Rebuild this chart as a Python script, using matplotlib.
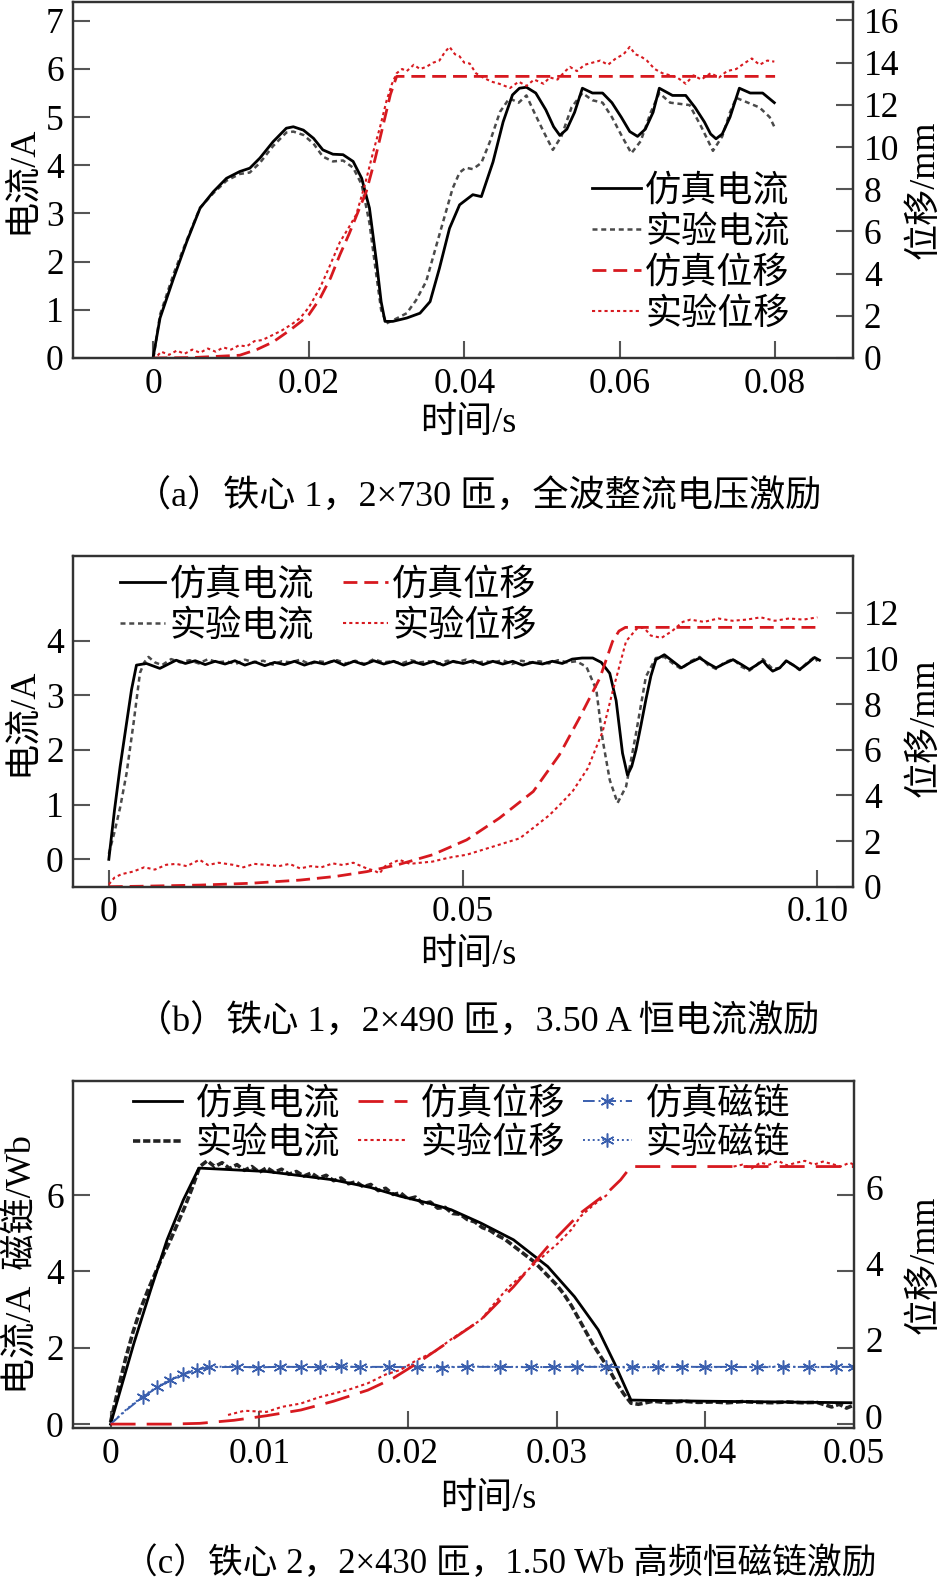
import numpy as np
import matplotlib
matplotlib.use("Agg")
import matplotlib.pyplot as plt
import matplotlib.transforms as mtransforms

plt.rcParams['font.family'] = ['Liberation Serif', 'Noto Sans CJK SC', 'DejaVu Sans']
plt.rcParams['axes.unicode_minus'] = False

RED = '#d7191f'
BLUE = '#3a5fae'
GRAY = '#4a4a4a'

# ---------------- (a) data ----------------
ta_si = [0, 0.00085, 0.0026, 0.0043, 0.006, 0.0077, 0.0094, 0.0111, 0.0124, 0.0137, 0.0154, 0.0171,
         0.018, 0.0193, 0.0206, 0.0218, 0.0231, 0.0244, 0.0257, 0.0268, 0.0278, 0.0287, 0.0293, 0.0298,
         0.0308, 0.0326, 0.0343, 0.0356, 0.0368, 0.0381, 0.0394, 0.0411, 0.0422, 0.0437, 0.045, 0.0462,
         0.0471, 0.048, 0.0492, 0.0505, 0.0515, 0.0523, 0.0532, 0.0542, 0.0552, 0.0565, 0.0578, 0.059,
         0.0602, 0.0613, 0.0623, 0.0633, 0.0643, 0.0651, 0.0668, 0.0685, 0.0697, 0.0709, 0.0717, 0.0724,
         0.0732, 0.0742, 0.0754, 0.0768, 0.0784, 0.0799]
ia_sim = [0.05, 0.83, 1.66, 2.42, 3.11, 3.45, 3.73, 3.87, 3.94, 4.15, 4.49, 4.77,
          4.8, 4.73, 4.56, 4.32, 4.23, 4.22, 4.08, 3.73, 3.11, 2.0, 1.17, 0.76,
          0.76, 0.83, 0.93, 1.17, 1.86, 2.69, 3.18, 3.39, 3.35, 4.07, 4.9, 5.46,
          5.6, 5.62, 5.5, 5.15, 4.8, 4.62, 4.75, 5.1, 5.6, 5.5, 5.5, 5.3,
          5.0, 4.7, 4.6, 4.75, 5.1, 5.6, 5.45, 5.45, 5.2, 4.9, 4.65, 4.55,
          4.65, 5.0, 5.6, 5.5, 5.5, 5.3]

ta_ei = [0, 0.00085, 0.0026, 0.0043, 0.006, 0.0077, 0.0094, 0.0111, 0.0124, 0.0137, 0.0154, 0.0171,
         0.018, 0.0193, 0.0206, 0.0218, 0.0231, 0.0244, 0.0257, 0.0268, 0.0278, 0.0287, 0.0293, 0.03,
         0.0308, 0.0326, 0.0338, 0.0351, 0.0368, 0.0385, 0.0394, 0.0402, 0.0411, 0.0422, 0.0433, 0.0446,
         0.0458, 0.047, 0.048, 0.049, 0.0502, 0.0514, 0.0525, 0.0538, 0.0552, 0.0565, 0.0578, 0.059,
         0.0603, 0.0615, 0.0627, 0.064, 0.0651, 0.0665, 0.069, 0.0705, 0.072, 0.0732, 0.0742, 0.075,
         0.0765, 0.078, 0.0793, 0.0799]
ia_exp = [0.0, 0.9, 1.75, 2.45, 3.12, 3.42, 3.68, 3.82, 3.85, 4.05, 4.4, 4.68,
          4.7, 4.63, 4.45, 4.18, 4.08, 4.1, 3.95, 3.6, 2.8, 1.7, 1.0, 0.72,
          0.78, 0.93, 1.2, 1.59, 2.56, 3.52, 3.85, 3.95, 3.92, 4.05, 4.49, 5.11,
          5.39, 5.3, 5.45, 5.1, 4.7, 4.32, 4.6, 5.2, 5.5, 5.35, 5.3, 5.0,
          4.6, 4.25, 4.5, 5.1, 5.5, 5.3, 5.25, 4.8, 4.3, 4.6, 5.1, 5.4,
          5.3, 5.2, 5.0, 4.8]

ta_sd = [0, 0.005, 0.0111, 0.0133, 0.0154, 0.0176, 0.0189, 0.02, 0.0214, 0.0228, 0.024, 0.0252,
         0.0263, 0.0274, 0.0285, 0.0296, 0.0305, 0.0313, 0.032, 0.08]
da_sim = [0, 0.02, 0.13, 0.4, 0.76, 1.33, 1.7, 2.05, 2.8, 3.8, 4.9, 5.9,
          6.9, 7.9, 9.4, 11.1, 12.5, 13.35, 13.35, 13.35]

ta_ed = [0, 0.001, 0.002, 0.003, 0.004, 0.005, 0.006, 0.007, 0.008, 0.009, 0.010, 0.011, 0.012,
         0.013, 0.014, 0.0154, 0.0165, 0.0178, 0.0189, 0.02, 0.0214, 0.0225, 0.024, 0.025, 0.0261,
         0.0272, 0.0283, 0.0292, 0.03, 0.0307, 0.0313, 0.032, 0.0326, 0.0335, 0.0343, 0.0351, 0.036,
         0.0368, 0.0375, 0.0381, 0.0388, 0.0394, 0.04, 0.0407, 0.0415, 0.0424, 0.0435, 0.0445, 0.0459,
         0.047, 0.048, 0.049, 0.0502, 0.051, 0.052, 0.053, 0.0536, 0.0545, 0.0555, 0.0565, 0.0575,
         0.0585, 0.0595, 0.0605, 0.0613, 0.062, 0.0627, 0.0635, 0.0645, 0.0655, 0.0665, 0.0674, 0.0685,
         0.0695, 0.0705, 0.0717, 0.0728, 0.0738, 0.075, 0.076, 0.077, 0.078, 0.079, 0.0799]
da_exp = [-0.1, 0.3, 0.15, 0.35, 0.2, 0.4, 0.25, 0.45, 0.3, 0.5, 0.4, 0.6, 0.55,
          0.8, 0.85, 1.1, 1.3, 1.6, 1.9, 2.4, 3.3, 4.2, 5.5, 6.1, 6.8,
          8.2, 9.8, 11.0, 12.2, 13.0, 13.5, 13.7, 13.6, 13.9, 13.7, 13.8, 14.0,
          14.1, 14.5, 14.75, 14.4, 14.3, 14.0, 13.96, 13.5, 13.3, 13.1, 13.0, 12.8,
          13.1, 12.9, 13.2, 13.0, 13.3, 13.2, 13.6, 13.8, 13.6, 13.9, 14.0, 14.1,
          13.9, 14.2, 14.4, 14.75, 14.4, 14.3, 14.1, 13.7, 13.5, 13.4, 13.3, 13.0,
          13.4, 13.2, 13.5, 13.3, 13.6, 13.7, 13.96, 14.2, 13.9, 14.1, 14.05]

# ---------------- (b) data ----------------
tb_si = [0, 0.0008, 0.0016, 0.0024, 0.0032, 0.0039, 0.0053, 0.0072, 0.0095, 0.0108, 0.0122, 0.0136,
         0.015, 0.0164, 0.0178, 0.0192, 0.0206, 0.022, 0.0234, 0.0248, 0.0262, 0.0276, 0.029, 0.0304,
         0.0318, 0.0332, 0.0346, 0.036, 0.0374, 0.0388, 0.0402, 0.0416, 0.043, 0.0444, 0.0458, 0.0472,
         0.0486, 0.05, 0.0514, 0.0528, 0.0542, 0.0556, 0.057, 0.0584, 0.0598, 0.0612, 0.0626, 0.064,
         0.0654, 0.0668, 0.0683, 0.0695, 0.0707, 0.0716, 0.0725, 0.0732, 0.0738, 0.0744, 0.0751, 0.0758,
         0.0765, 0.0772, 0.0784, 0.0796, 0.0808, 0.0821, 0.0834, 0.0846, 0.0857, 0.0869, 0.0881, 0.0893,
         0.0904, 0.0914, 0.0923, 0.093, 0.0937, 0.0947, 0.0956, 0.0966, 0.0975, 0.0986, 0.0996, 0.1003]
ib_sim = [0.0, 0.9, 1.7, 2.4, 3.1, 3.55, 3.58, 3.49, 3.64, 3.58, 3.63, 3.56,
          3.62, 3.57, 3.63, 3.55, 3.61, 3.54, 3.6, 3.56, 3.62, 3.55, 3.61, 3.57,
          3.63, 3.55, 3.62, 3.56, 3.63, 3.57, 3.62, 3.55, 3.61, 3.56, 3.62, 3.55,
          3.62, 3.58, 3.63, 3.56, 3.62, 3.57, 3.62, 3.55, 3.6, 3.57, 3.62, 3.58,
          3.66, 3.68, 3.68, 3.6, 3.4, 2.9, 1.94, 1.54, 1.7, 2.0, 2.45, 2.92,
          3.35, 3.65, 3.74, 3.62, 3.5, 3.6, 3.68, 3.58, 3.5, 3.58, 3.65, 3.56,
          3.47, 3.55, 3.63, 3.52, 3.44, 3.5, 3.63, 3.55, 3.47, 3.58, 3.69, 3.64]

tb_ei = [0, 0.0008, 0.0016, 0.0025, 0.0035, 0.0044, 0.005, 0.0056, 0.0065, 0.0075, 0.0088, 0.0101,
         0.0114, 0.0127, 0.014, 0.0153, 0.0166, 0.0179, 0.0192, 0.0205, 0.0218, 0.0231, 0.0244, 0.0257,
         0.027, 0.0283, 0.0296, 0.0309, 0.0322, 0.0335, 0.0348, 0.0361, 0.0374, 0.0387, 0.04, 0.0413,
         0.0426, 0.0439, 0.0452, 0.0465, 0.0478, 0.0491, 0.0504, 0.0517, 0.053, 0.0543, 0.0556, 0.0569,
         0.0582, 0.0595, 0.0608, 0.0621, 0.0634, 0.0647, 0.066, 0.0674, 0.0688, 0.0697, 0.0707, 0.0718,
         0.073, 0.0744, 0.0758, 0.0772, 0.0784, 0.0796, 0.0808, 0.0821, 0.0834, 0.0846, 0.0857, 0.0869,
         0.0881, 0.0893, 0.0904, 0.0914, 0.0923, 0.0937, 0.0947, 0.0956, 0.0966, 0.0975, 0.0986, 0.0996,
         0.1]
ib_exp = [0.1, 0.5, 0.95, 1.57, 2.5, 3.41, 3.6, 3.7, 3.6, 3.55, 3.66, 3.6,
          3.64, 3.58, 3.66, 3.6, 3.62, 3.57, 3.65, 3.6, 3.63, 3.56, 3.62, 3.6,
          3.65, 3.57, 3.62, 3.6, 3.64, 3.58, 3.63, 3.57, 3.66, 3.6, 3.62, 3.58,
          3.64, 3.6, 3.62, 3.57, 3.63, 3.6, 3.65, 3.58, 3.62, 3.6, 3.64, 3.57,
          3.63, 3.6, 3.62, 3.58, 3.64, 3.6, 3.62, 3.52, 3.1, 2.18, 1.45, 1.03,
          1.33, 2.3, 3.34, 3.68, 3.7, 3.58, 3.48, 3.62, 3.7, 3.55, 3.48, 3.6,
          3.66, 3.52, 3.45, 3.55, 3.66, 3.48, 3.5, 3.62, 3.55, 3.46, 3.6, 3.7,
          3.62]

tb_sd = [0, 0.0045, 0.0128, 0.02, 0.027, 0.032, 0.0364, 0.041, 0.0457, 0.0505, 0.0551, 0.0599,
         0.0636, 0.0664, 0.0693, 0.0711, 0.072, 0.0729, 0.1]
db_sim = [0, 0.02, 0.07, 0.15, 0.29, 0.45, 0.66, 0.98, 1.4, 2.05, 3.0, 4.17,
          5.78, 7.38, 9.14, 10.75, 11.2, 11.36, 11.36]

tb_ed = [0, 0.0008, 0.0018, 0.0034, 0.005, 0.0065, 0.0081, 0.0095, 0.011, 0.0128, 0.014, 0.0155,
         0.0175, 0.019, 0.0205, 0.0222, 0.024, 0.0255, 0.027, 0.0285, 0.03, 0.0316, 0.033, 0.0345,
         0.0364, 0.0375, 0.0382, 0.039, 0.041, 0.0425, 0.044, 0.0457, 0.047, 0.0485, 0.0505, 0.0528,
         0.0551, 0.058, 0.06, 0.0622, 0.064, 0.0655, 0.0676, 0.0697, 0.0711, 0.073, 0.0745, 0.0755,
         0.0765, 0.078, 0.0795, 0.081, 0.0821, 0.084, 0.086, 0.088, 0.09, 0.092, 0.094, 0.096,
         0.098, 0.1]
db_exp = [0.1, 0.4, 0.55, 0.66, 0.85, 0.75, 0.96, 1.0, 0.9, 1.18, 0.95, 1.05,
          0.96, 0.85, 1.0, 0.96, 0.9, 1.0, 0.8, 0.9, 0.85, 1.02, 0.95, 1.05,
          0.8, 0.7, 0.58, 0.9, 1.18, 1.0, 1.05, 1.1, 1.2, 1.3, 1.4, 1.62,
          1.84, 2.12, 2.6, 3.14, 3.7, 4.2, 5.19, 6.8, 8.55, 10.75, 11.3, 11.35,
          11.0, 10.9, 11.2, 11.6, 11.7, 11.6, 11.75, 11.65, 11.7, 11.8, 11.65, 11.75,
          11.7, 11.8]

# ---------------- (c) data ----------------
tc_si = [0, 0.00157, 0.0027, 0.0038, 0.0049, 0.00594, 0.0075, 0.0105, 0.013, 0.015, 0.0175, 0.0195,
         0.0215, 0.0229, 0.0249, 0.0271, 0.0294, 0.0312, 0.0328, 0.0339, 0.035, 0.04, 0.045, 0.0498]
ic_sim = [0, 2.12, 3.52, 4.83, 5.88, 6.71, 6.68, 6.62, 6.5, 6.4, 6.2, 5.97,
          5.78, 5.62, 5.27, 4.83, 4.13, 3.34, 2.47, 1.59, 0.63, 0.6, 0.58, 0.56]

tc_ei = list(np.round(np.arange(0, 0.03551, 0.0005), 5)) + [
    0.0365, 0.0375, 0.0385, 0.0395, 0.0405, 0.0415, 0.0425, 0.0435, 0.0445, 0.0455,
    0.0465, 0.0475, 0.0485, 0.049, 0.0495, 0.05]
ic_exp = [0.05, 0.9, 1.7, 2.4, 3.0, 3.5, 3.95, 4.4, 4.8, 5.25, 5.7, 6.2,
          6.75, 6.9, 6.75, 6.85, 6.7, 6.8, 6.65, 6.75, 6.6, 6.72, 6.6, 6.68,
          6.55, 6.62, 6.5, 6.58, 6.45, 6.52, 6.38, 6.45, 6.3, 6.35, 6.22, 6.28,
          6.12, 6.18, 6.02, 6.06, 5.9, 5.95, 5.78, 5.82, 5.66, 5.68, 5.52, 5.5,
          5.36, 5.3, 5.15, 5.08, 4.95, 4.85, 4.7, 4.55, 4.4, 4.25, 4.05, 3.85,
          3.65, 3.4, 3.1, 2.75, 2.4, 2.05, 1.75, 1.45, 1.1, 0.8, 0.55, 0.52,
          0.6, 0.56, 0.6, 0.57, 0.58, 0.56, 0.59, 0.57, 0.56, 0.58,
          0.56, 0.57, 0.45, 0.52, 0.42, 0.5]

tc_sd = [0, 0.004, 0.006, 0.0083, 0.0105, 0.0128, 0.015, 0.0173, 0.019, 0.0206, 0.0229, 0.0249,
         0.0271, 0.0294, 0.0316, 0.0334, 0.0343, 0.035, 0.05]
dc_sim = [0, 0, 0.02, 0.1, 0.22, 0.37, 0.6, 0.89, 1.2, 1.59, 2.2, 2.73,
          3.6, 4.65, 5.53, 6.06, 6.4, 6.75, 6.75]

tc_ed = [0.0079, 0.009, 0.0105, 0.0115, 0.0128, 0.014, 0.015, 0.016, 0.0173, 0.0185, 0.0195, 0.0206,
         0.0218, 0.023, 0.024, 0.0249, 0.026, 0.0268, 0.0276, 0.0288, 0.0301, 0.031, 0.0316, 0.0325,
         0.0334, 0.038, 0.0419, 0.0425, 0.0431, 0.0437, 0.0443, 0.0449, 0.0455, 0.0461, 0.0467, 0.0473,
         0.0479, 0.0485, 0.0491, 0.0497, 0.05]
dc_exp = [0.24, 0.35, 0.32, 0.45, 0.54, 0.7, 0.8, 0.9, 1.07, 1.3, 1.42, 1.68,
          1.9, 2.25, 2.5, 2.73, 3.25, 3.6, 3.87, 4.3, 4.74, 5.1, 5.44, 5.75,
          6.01, np.nan, 6.75, 6.8, 6.7, 6.85, 6.8, 6.9, 6.78, 6.85, 6.9, 6.8,
          6.88, 6.82, 6.75, 6.85, 6.8]

tc_f = [0, 0.0011, 0.0022, 0.0031, 0.004, 0.0049, 0.0058, 0.0066, 0.0085, 0.0099, 0.0114, 0.0128,
        0.0141, 0.0155, 0.0168, 0.0187, 0.0206, 0.0223, 0.024, 0.0262, 0.0283, 0.0298, 0.0314, 0.0333,
        0.0351, 0.0368, 0.0384, 0.04, 0.0417, 0.0435, 0.0452, 0.047, 0.0488, 0.05]
fc_sim = [0, 0.38, 0.72, 0.95, 1.15, 1.3, 1.42, 1.49, 1.5, 1.49, 1.5, 1.5,
          1.49, 1.5, 1.5, 1.5, 1.49, 1.5, 1.5, 1.5, 1.49, 1.5, 1.5, 1.5,
          1.5, 1.49, 1.5, 1.5, 1.5, 1.49, 1.5, 1.5, 1.5, 1.5]
fc_exp = [0, 0.4, 0.74, 0.97, 1.17, 1.32, 1.44, 1.5, 1.51, 1.48, 1.51, 1.49,
          1.5, 1.52, 1.49, 1.5, 1.5, 1.48, 1.51, 1.5, 1.5, 1.49, 1.51, 1.5,
          1.48, 1.5, 1.51, 1.49, 1.5, 1.5, 1.51, 1.49, 1.5, 1.5]

labels_ab = ['仿真电流', '实验电流', '仿真位移', '实验位移']
labels_c = ['仿真电流', '实验电流', '仿真位移', '实验位移', '仿真磁链', '实验磁链']

W, H = 943, 1579
fig = plt.figure(figsize=(W / 100, H / 100), dpi=100)


def fx(px):
    return px / W


def fy(py):
    return 1 - py / H


def style(ax, ax2):
    for a in (ax, ax2):
        for s in a.spines.values():
            s.set_linewidth(1.6)
            s.set_color('#333333')
    ax.tick_params(axis='both', direction='in', length=12, width=1.5, color='#555555',
                   labelsize=25.5, pad=7)
    ax2.tick_params(axis='y', direction='in', length=12, width=1.5, color='#555555',
                    labelsize=25.5, pad=8)


sim_i = dict(color='black', lw=2.0, ls='-')
exp_i = dict(color=GRAY, lw=1.8, ls=(0, (2, 1.5)))
sim_d = dict(color=RED, lw=2.0, ls=(0, (5, 2.5)))
exp_d = dict(color=RED, lw=1.5, ls=(0, (1.5, 1.5)))
LEG = 26
LAB = 26
CAP = 26

# ---------------- panel (a) ----------------
ax = fig.add_axes([fx(73.4), fy(358), fx(852.8 - 73.4), (358 - 1.5) / H])
ax2 = ax.twinx()
l1, = ax.plot(ta_ei, ia_exp, **exp_i)
l0, = ax.plot(ta_si, ia_sim, **sim_i)
l3, = ax2.plot(ta_ed, da_exp, **exp_d)
l2, = ax2.plot(ta_sd, da_sim, **sim_d)
ax.set_xlim(-0.0103, 0.09)
ax.set_ylim(0, 7.4)
ax2.set_ylim(0, 16.9)
ax.set_xticks([0, 0.02, 0.04, 0.06, 0.08])
ax.set_xticklabels(['0', '0.02', '0.04', '0.06', '0.08'])
ax.set_yticks(range(0, 8))
ax2.set_yticks(range(0, 17, 2))
style(ax, ax2)
ax2.legend([l0, l1, l2, l3], labels_ab, loc='upper left',
           bbox_to_anchor=(fx(592), fy(175)), bbox_transform=fig.transFigure,
           frameon=False, fontsize=LEG, borderpad=0, borderaxespad=0,
           handlelength=1.35, handletextpad=0.12, labelspacing=0.2)
fig.text(fx(468), fy(423), '时间/s', ha='center', va='center', fontsize=LAB)
fig.text(fx(22), fy(180), '电流/A', ha='center', va='center', rotation=90, fontsize=LAB)
fig.text(fx(925), fy(190), '位移/mm', ha='center', va='center', rotation=90, fontsize=LAB)
fig.text(fx(478), fy(497), '（a）铁心 1，2×730 匝，全波整流电压激励', ha='center', va='center', fontsize=CAP)

# ---------------- panel (b) ----------------
ax = fig.add_axes([fx(73.4), fy(886.7), fx(852.8 - 73.4), (886.7 - 555.7) / H])
ax2 = ax.twinx()
l1, = ax.plot(tb_ei, ib_exp, **exp_i)
l0, = ax.plot(tb_si, ib_sim, **sim_i)
l3, = ax2.plot(tb_ed, db_exp, **exp_d)
l2, = ax2.plot(tb_sd, db_sim, **sim_d)
ax.set_xlim(-0.005, 0.105)
ax.set_ylim(-0.5, 5.55)
ax2.set_ylim(0, 14.5)
ax.set_xticks([0, 0.05, 0.10])
ax.set_xticklabels(['0', '0.05', '0.10'])
ax.set_yticks(range(0, 5))
ax2.set_yticks(range(0, 13, 2))
style(ax, ax2)
ax2.legend([l0, l1, l2, l3], labels_ab, loc='upper left', ncol=2,
           bbox_to_anchor=(fx(120), fy(569)), bbox_transform=fig.transFigure,
           frameon=False, fontsize=LEG, borderpad=0, borderaxespad=0,
           handlelength=1.25, handletextpad=0.12, labelspacing=0.2, columnspacing=0.8)
fig.text(fx(468), fy(955), '时间/s', ha='center', va='center', fontsize=LAB)
fig.text(fx(22), fy(722), '电流/A', ha='center', va='center', rotation=90, fontsize=LAB)
fig.text(fx(925), fy(728), '位移/mm', ha='center', va='center', rotation=90, fontsize=LAB)
fig.text(fx(478), fy(1022), '（b）铁心 1，2×490 匝，3.50 A 恒电流激励', ha='center', va='center', fontsize=CAP)

# ---------------- panel (c) ----------------
ax = fig.add_axes([fx(73.4), fy(1428.3), fx(854 - 73.4), (1428.3 - 1080.7) / H])
ax2 = ax.twinx()
l1, = ax.plot(tc_ei, ic_exp, color='#222222', lw=2.6, ls=(0, (2, 0.8)))
l0, = ax.plot(tc_si, ic_sim, **sim_i)
star = (6, 2, 0)
l5, = ax.plot(tc_f, fc_exp, color=BLUE, lw=1.4, ls=(0, (1, 1.5)), marker=star, ms=10,
              markevery=(3, 2), markeredgewidth=1.1)
l4, = ax.plot(tc_f, fc_sim, color=BLUE, lw=1.4, ls=(0, (6, 2, 1, 2)), marker=star, ms=10,
              markevery=(2, 2), markeredgewidth=1.1)
l3, = ax2.plot(tc_ed, dc_exp, **exp_d)
l2, = ax2.plot(tc_sd, dc_sim, color=RED, lw=2.0, ls=(0, (9, 4)))
ax.set_xlim(-0.0025, 0.05)
ax.set_ylim(-0.11, 9.0)
ax2.set_ylim(-0.11, 9.0)
ax.set_xticks([0, 0.01, 0.02, 0.03, 0.04, 0.05])
ax.set_xticklabels(['0', '0.01', '0.02', '0.03', '0.04', '0.05'])
ax.set_yticks([0, 2, 4, 6])
ax2.set_yticks([0, 2, 4, 6])
style(ax, ax2)
# right-hand labels of (c) sit a little above their ticks, as in the original
lift = mtransforms.ScaledTranslation(0, 8 / 100, fig.dpi_scale_trans)
for lab in ax2.get_yticklabels():
    lab.set_transform(lab.get_transform() + lift)
ax2.legend([l0, l1, l2, l3, l4, l5], labels_c, loc='upper left', ncol=3,
           bbox_to_anchor=(fx(133), fy(1088)), bbox_transform=fig.transFigure,
           frameon=False, fontsize=LEG, borderpad=0, borderaxespad=0,
           handlelength=1.35, handletextpad=0.38, labelspacing=0.15, columnspacing=0.5)
fig.text(fx(488), fy(1499), '时间/s', ha='center', va='center', fontsize=LAB)
fig.text(fx(22), fy(1265), '电流/A  磁链/Wb', ha='center', va='center', rotation=90, fontsize=LAB)
fig.text(fx(925), fy(1265), '位移/mm', ha='center', va='center', rotation=90, fontsize=LAB)
fig.text(fx(500), fy(1564), '（c）铁心 2，2×430 匝，1.50 Wb 高频恒磁链激励', ha='center', va='center', fontsize=25)

fig.savefig('out.png', dpi=100)
